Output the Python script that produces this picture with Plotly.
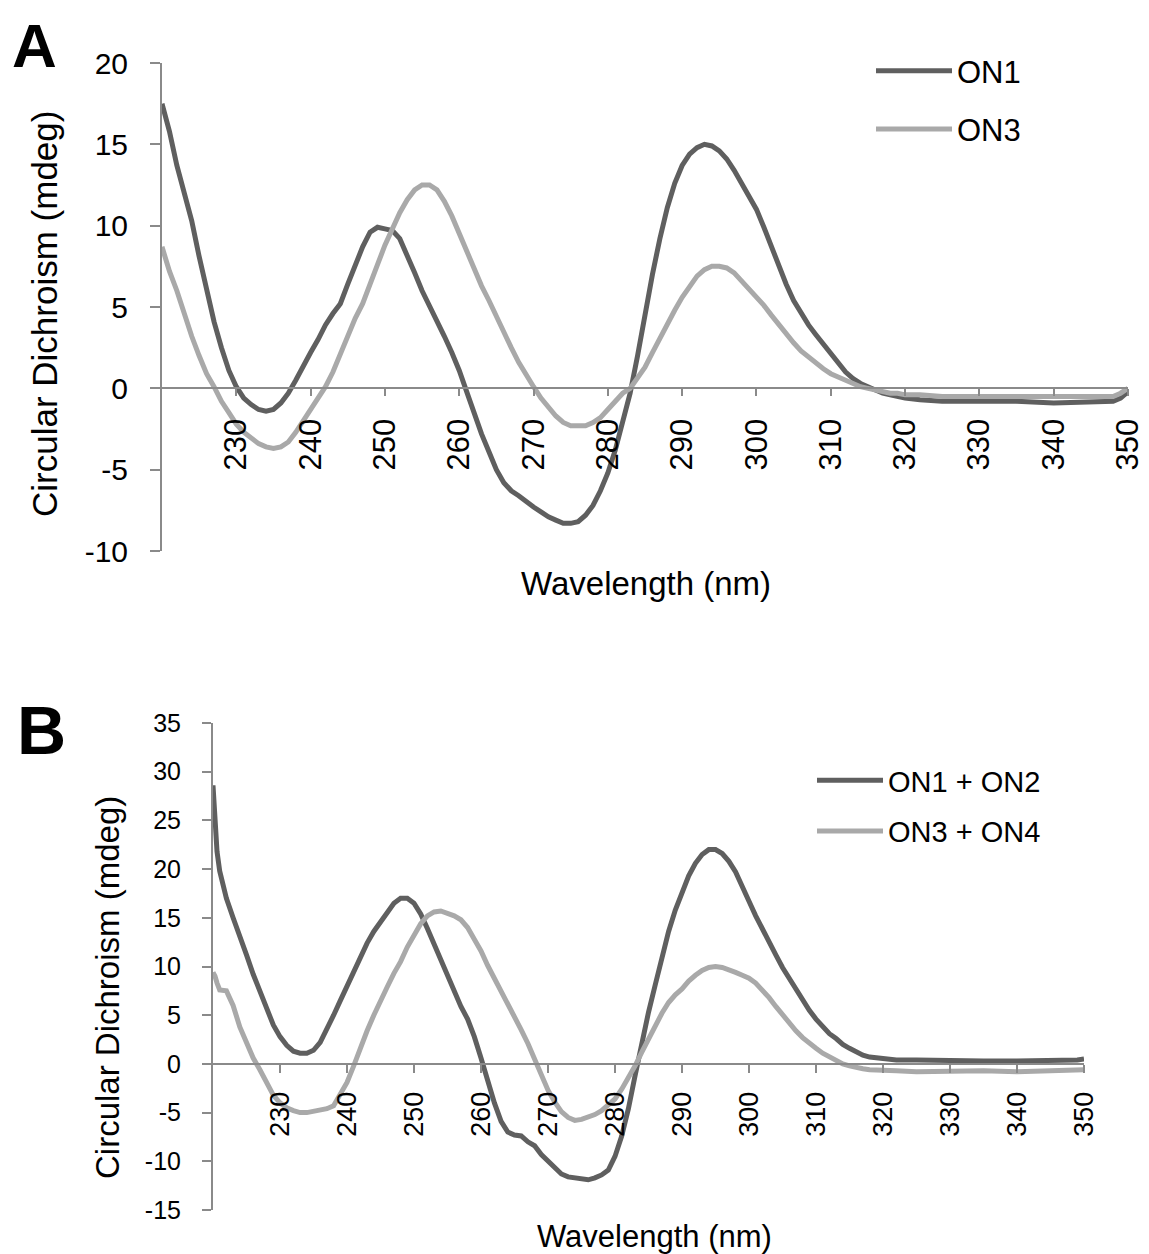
import plotly.graph_objects as go

# ---------------- data: panel A ----------------
wl_a = [220, 221, 222, 223, 224, 225, 226, 227, 228, 229,
        230, 231, 232, 233, 234, 235, 236, 237, 238, 239,
        240, 241, 242, 243, 244, 245, 246, 247, 248, 249,
        250, 251, 252, 253, 254, 255, 256, 257, 258, 259,
        260, 261, 262, 263, 264, 265, 266, 267, 268, 269,
        270, 271, 272, 273, 274, 275, 276, 277, 278, 279,
        280, 281, 282, 283, 284, 285, 286, 287, 288, 289,
        290, 291, 292, 293, 294, 295, 296, 297, 298, 299,
        300, 301, 302, 303, 304, 305, 306, 307, 308, 309,
        310, 311, 312, 313, 314, 315, 316, 317, 318, 319,
        320, 322, 325, 330, 335, 340, 345, 348, 349, 350]

on1_a = [17.5, 15.8, 13.7, 11.9, 10.3, 8.1, 6.0, 4.1, 2.5, 1.1,
         0.1, -0.6, -1.0, -1.3, -1.4, -1.3, -0.9, -0.3, 0.5, 1.4,
         2.2, 3.0, 3.9, 4.6, 5.2, 6.4, 7.6, 8.7, 9.6, 9.9,
         9.8, 9.7, 9.2, 8.2, 7.1, 6.0, 5.1, 4.2, 3.2, 2.2,
         1.1, -0.2, -1.6, -2.8, -3.9, -5.0, -5.8, -6.3, -6.6, -7.0,
         -7.3, -7.6, -7.9, -8.1, -8.3, -8.3, -8.2, -7.8, -7.2, -6.3,
         -5.2, -3.8, -2.0, -0.3, 2.0, 4.6, 7.0, 9.2, 11.1, 12.6,
         13.7, 14.4, 14.8, 15.0, 14.9, 14.6, 14.1, 13.4, 12.6, 11.8,
         11.0, 9.9, 8.7, 7.5, 6.4, 5.4, 4.6, 3.9, 3.3, 2.7,
         2.1, 1.5, 1.0, 0.6, 0.3, 0.1, -0.1, -0.3, -0.4, -0.5,
         -0.6, -0.7, -0.8, -0.8, -0.8, -0.9, -0.8, -0.8, -0.6, -0.2]

on3_a = [8.7, 7.2, 6.0, 4.5, 3.2, 2.0, 0.9, 0.1, -0.8, -1.5,
         -2.2, -2.7, -3.1, -3.4, -3.6, -3.7, -3.6, -3.3, -2.7, -2.0,
         -1.3, -0.5, 0.1, 1.0, 2.1, 3.2, 4.3, 5.2, 6.5, 7.6,
         8.8, 9.8, 10.8, 11.6, 12.2, 12.5, 12.5, 12.2, 11.5, 10.6,
         9.5, 8.4, 7.3, 6.3, 5.4, 4.4, 3.4, 2.5, 1.6, 0.8,
         0.1, -0.6, -1.2, -1.7, -2.1, -2.3, -2.3, -2.3, -2.1, -1.8,
         -1.3, -0.8, -0.3, 0.0, 0.6, 1.3, 2.2, 3.1, 4.0, 4.8,
         5.6, 6.3, 6.9, 7.3, 7.5, 7.5, 7.4, 7.1, 6.6, 6.1,
         5.7, 5.1, 4.5, 3.9, 3.3, 2.8, 2.3, 1.9, 1.5, 1.2,
         0.9, 0.7, 0.5, 0.3, 0.1, 0.0, -0.1, -0.2, -0.3, -0.3,
         -0.4, -0.4, -0.5, -0.5, -0.5, -0.5, -0.5, -0.5, -0.3, 0.0]

# ---------------- data: panel B ----------------
wl_b = [220, 220.3, 220.6, 221, 222, 223, 224, 225, 226, 227, 228, 229,
        230, 231, 232, 233, 234, 235, 236, 237, 238, 239,
        240, 241, 242, 243, 244, 245, 246, 247, 248, 249,
        250, 251, 252, 253, 254, 255, 256, 257, 258, 259,
        260, 261, 262, 263, 264, 265, 266, 267, 268, 269,
        270, 271, 272, 273, 274, 275, 276, 277, 278, 279,
        280, 281, 282, 283, 284, 285, 286, 287, 288, 289,
        290, 291, 292, 293, 294, 295, 296, 297, 298, 299,
        300, 301, 302, 303, 304, 305, 306, 307, 308, 309,
        310, 311, 312, 313, 314, 315, 316, 317, 318, 319,
        320, 322, 325, 330, 335, 340, 345, 348, 349, 350]

on12_b = [28.6, 24.0, 21.8, 19.8, 17.0, 15.0, 13.2, 11.2, 9.2, 7.4, 5.6, 4.0,
          2.8, 1.9, 1.3, 1.1, 1.1, 1.4, 2.2, 3.5, 5.0, 6.5,
          8.0, 9.6, 11.0, 12.4, 13.6, 14.6, 15.6, 16.5, 17.0, 17.0,
          16.5, 15.4, 13.9, 12.3, 10.6, 9.0, 7.3, 5.9, 4.6, 2.8,
          0.6, -1.8, -4.0, -5.9, -7.0, -7.3, -7.4, -8.0, -8.4, -9.3,
          -10.0, -10.7, -11.3, -11.6, -11.7, -11.8, -11.9, -11.7, -11.4, -10.9,
          -9.5, -7.4, -4.6, -1.2, 2.2, 5.3, 8.1, 11.0, 13.6, 15.8,
          17.7, 19.3, 20.6, 21.5, 22.0, 22.0, 21.6, 20.8, 19.7, 18.3,
          16.7, 15.2, 13.8, 12.5, 11.2, 9.9, 8.8, 7.6, 6.5, 5.5,
          4.6, 3.8, 3.1, 2.6, 2.0, 1.6, 1.2, 0.9, 0.7, 0.6,
          0.5, 0.4, 0.4, 0.3, 0.3, 0.3, 0.3, 0.4, 0.4, 0.5]

on34_b = [9.4, 9.0, 8.3, 7.6, 7.5, 6.0, 3.8, 2.1, 0.6, -0.6, -2.0, -3.2,
          -4.0, -4.5, -4.8, -5.0, -5.0, -4.9, -4.8, -4.6, -4.3, -3.2,
          -1.9, -0.2, 1.7, 3.4, 5.0, 6.6, 7.9, 9.3, 10.5, 12.0,
          13.3, 14.4, 15.2, 15.6, 15.7, 15.5, 15.2, 14.8, 14.0, 12.8,
          11.6, 10.1, 8.8, 7.5, 6.2, 5.0, 3.5, 2.1, 0.5, -1.1,
          -2.7, -3.9, -4.9, -5.5, -5.8, -5.7, -5.5, -5.2, -4.8, -4.2,
          -3.6, -2.6, -1.5, -0.2, 1.2, 2.6, 4.0, 5.2, 6.3, 7.1,
          7.7, 8.5, 9.1, 9.6, 9.9, 10.0, 9.9, 9.7, 9.4, 9.1,
          8.8, 8.3, 7.6, 6.8, 5.9, 5.0, 4.2, 3.4, 2.7, 2.1,
          1.6, 1.1, 0.7, 0.3, 0.0, -0.2, -0.4, -0.5, -0.6, -0.6,
          -0.7, -0.7, -0.8, -0.7, -0.7, -0.8, -0.7, -0.7, -0.6, -0.6]

x_ticks = [230, 240, 250, 260, 270, 280, 290, 300, 310, 320, 330, 340, 350]
y_ticks_a = [-10, -5, 0, 5, 10, 15, 20]
y_ticks_b = [-15, -10, -5, 0, 5, 10, 15, 20, 25, 30, 35]

# ---------------- styling ----------------
OFF = 8  # page body margin
W, H = 1149 - OFF, 1254 - OFF
FONT = "Arial, Liberation Sans, sans-serif"
DARK = "#5f5f5f"
LIGHT = "#a9a9a9"
AX = "#8a8a8a"

def px_x(p):
    return (p - OFF) / W

def px_y(p):
    return 1 - (p - OFF) / H

dom_xa = [px_x(162), px_x(1128)]
dom_ya = [px_y(551), px_y(63)]
dom_xb = [px_x(213), px_x(1084)]
dom_yb = [px_y(1210), px_y(723)]
ra = [-10, 20]
rb = [-15, 35]
zero_a = dom_ya[0] + (0 - ra[0]) / (ra[1] - ra[0]) * (dom_ya[1] - dom_ya[0])
zero_b = dom_yb[0] + (0 - rb[0]) / (rb[1] - rb[0]) * (dom_yb[1] - dom_yb[0])

fig = go.Figure()
fig.add_trace(go.Scatter(x=wl_a, y=on1_a, name="ON1", mode="lines",
                         line=dict(color=DARK, width=5), xaxis="x", yaxis="y",
                         legend="legend", legendgroup="a1"))
fig.add_trace(go.Scatter(x=wl_a, y=on3_a, name="ON3", mode="lines",
                         line=dict(color=LIGHT, width=5), xaxis="x", yaxis="y",
                         legend="legend", legendgroup="a2"))
fig.add_trace(go.Scatter(x=wl_b, y=on12_b, name="ON1 + ON2", mode="lines",
                         line=dict(color=DARK, width=5), xaxis="x2", yaxis="y2",
                         legend="legend2", legendgroup="b1"))
fig.add_trace(go.Scatter(x=wl_b, y=on34_b, name="ON3 + ON4", mode="lines",
                         line=dict(color=LIGHT, width=5), xaxis="x2", yaxis="y2",
                         legend="legend2", legendgroup="b2"))

def xaxis(domain, pos, fs, standoff, tlen):
    return dict(domain=domain, range=[220, 350], anchor="free", position=pos,
                showline=True, linecolor=AX, linewidth=2,
                ticks="outside", ticklen=tlen, tickwidth=2, tickcolor=AX,
                tickmode="array", tickvals=x_ticks,
                ticktext=[str(v) for v in x_ticks], tickangle=-90,
                tickfont=dict(size=fs, color="black", family=FONT),
                ticklabelstandoff=standoff, automargin=False,
                showgrid=False, zeroline=False, fixedrange=True)

def yaxis(domain, rng, vals, anchor, fs, standoff, tlen):
    return dict(domain=domain, range=rng, anchor=anchor,
                showline=True, linecolor=AX, linewidth=2,
                ticks="outside", ticklen=tlen, tickwidth=2, tickcolor=AX,
                tickmode="array", tickvals=vals, ticktext=[str(v) for v in vals],
                tickfont=dict(size=fs, color="black", family=FONT),
                ticklabelstandoff=standoff, automargin=False,
                showgrid=False, zeroline=False, fixedrange=True)

def ann(text, xp, yp, size, angle=0):
    return dict(text=text, x=px_x(xp), y=px_y(yp), xref="paper", yref="paper",
                xanchor="center", yanchor="middle", showarrow=False,
                textangle=angle, font=dict(size=size, family=FONT, color="black"))

fig.update_layout(
    width=W, height=H,
    margin=dict(l=0, r=0, t=0, b=0, autoexpand=False),
    paper_bgcolor="white", plot_bgcolor="white",
    font=dict(family=FONT, color="black"),
    hovermode=False,
    xaxis=xaxis(dom_xa, zero_a, 31, 10, 7),
    yaxis=yaxis(dom_ya, ra, y_ticks_a, "x", 30, 16, 10),
    xaxis2=xaxis(dom_xb, zero_b, 27, 8, 8),
    yaxis2=yaxis(dom_yb, rb, y_ticks_b, "x2", 25, 16, 9),
    legend=dict(x=px_x(871), y=px_y(44), xanchor="left", yanchor="top",
                font=dict(size=31, family=FONT, color="black"),
                itemwidth=76, tracegroupgap=15, traceorder="grouped",
                bgcolor="rgba(0,0,0,0)"),
    legend2=dict(x=px_x(812), y=px_y(755), xanchor="left", yanchor="top",
                 font=dict(size=29, family=FONT, color="black"),
                 itemwidth=66, tracegroupgap=10, traceorder="grouped",
                 bgcolor="rgba(0,0,0,0)"),
    annotations=[
        ann("<b>A</b>", 34, 46, 62),
        ann("<b>B</b>", 41, 730, 68),
        ann("Circular Dichroism (mdeg)", 44, 314, 35, -90),
        ann("Wavelength (nm)", 646, 583, 33),
        ann("Circular Dichroism (mdeg)", 107, 988, 33, -90),
        ann("Wavelength (nm)", 654, 1236, 31),
    ],
)

fig.write_html("out.html")
